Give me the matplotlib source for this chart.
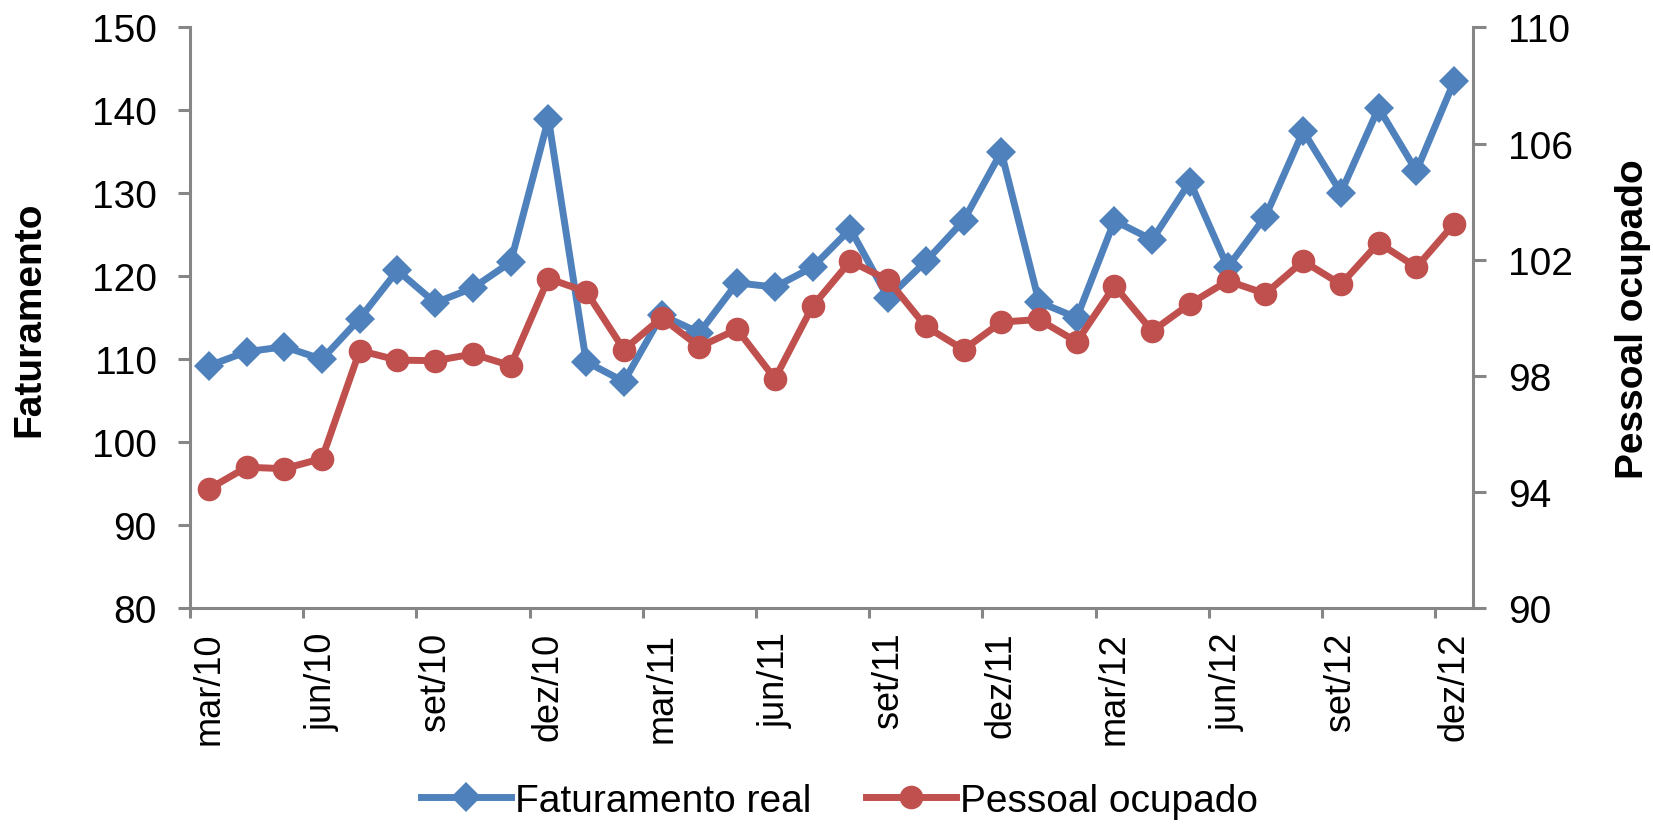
import numpy as np
import matplotlib.pyplot as plt
from matplotlib.lines import Line2D

plt.rcParams['font.family'] = ['Liberation Sans', 'DejaVu Sans']

# Monthly series, mar/10 .. dez/12
faturamento = [109.2, 110.9, 111.5, 110.0, 114.9, 120.7, 116.8, 118.6, 121.7, 139.0,
               109.7, 107.3, 115.3, 113.2, 119.2, 118.7, 121.1, 125.7, 117.4, 121.8,
               126.7, 135.0, 116.9, 115.0, 126.7, 124.4, 131.4, 121.1, 127.2, 137.5,
               130.1, 140.3, 132.7, 143.5]
pessoal = [94.1, 94.85, 94.8, 95.15, 98.87, 98.54, 98.52, 98.75, 98.35, 101.35,
           100.9, 98.9, 100.0, 99.0, 99.6, 97.9, 100.4, 101.95, 101.3, 99.7,
           98.9, 99.85, 99.94, 99.17, 101.1, 99.54, 100.48, 101.27, 100.83, 101.95,
           101.15, 102.58, 101.74, 103.24]
tick_labels = ['mar/10', 'jun/10', 'set/10', 'dez/10', 'mar/11', 'jun/11',
               'set/11', 'dez/11', 'mar/12', 'jun/12', 'set/12', 'dez/12']
left_ticks = [80, 90, 100, 110, 120, 130, 140, 150]
right_ticks = [90, 94, 98, 102, 106, 110]

blue = '#4F81BD'
red = '#C0504D'
grey = '#868686'

fig = plt.figure(figsize=(16.53, 8.28), dpi=100)
ax = fig.add_axes([0.1149, 0.2645, 0.7762, 0.7011])
ax2 = ax.twinx()

x = np.arange(len(faturamento))
ax.plot(x, faturamento, color=blue, lw=5, marker='D', ms=15, mew=0,
        solid_joinstyle='round', clip_on=False)
ax2.plot(x, pessoal, color=red, lw=5, marker='o', ms=17, mew=0,
         solid_joinstyle='round', clip_on=False)

ax.set_xlim(-0.5, len(x) - 0.5)
ax.set_ylim(80, 150)
ax2.set_ylim(90, 110)
ax.set_yticks(left_ticks)
ax2.set_yticks(right_ticks)

# category labels every 3 months, tick marks between categories
ax.set_xticks(x[::3])
ax.set_xticklabels(tick_labels, rotation=90, va='top', ha='center')
ax.set_xticks(np.arange(-0.5, len(x) - 0.5, 3), minor=True)
ax.tick_params(axis='x', which='major', length=0, pad=17, labelsize=26)
ax.tick_params(axis='x', which='minor', length=7, width=2.2, color=grey)
ax.tick_params(axis='y', length=9, width=2.2, color=grey, pad=15, labelsize=28)
ax2.tick_params(axis='y', length=9, width=2.2, color=grey, pad=16, labelsize=28)

for a in (ax, ax2):
    a.spines['top'].set_visible(False)
    for s in ('left', 'bottom', 'right'):
        a.spines[s].set_color(grey)
        a.spines[s].set_linewidth(2.2)
ax.spines['right'].set_visible(False)
ax2.spines['left'].set_visible(False)
ax2.spines['bottom'].set_visible(False)

fig.text(0.018, 0.615, 'Faturamento', rotation=90, fontsize=28,
         fontweight='bold', ha='center', va='center')
fig.text(0.988, 0.615, 'Pessoal ocupado', rotation=90, fontsize=28,
         fontweight='bold', ha='center', va='center')

handles = [
    Line2D([], [], color=blue, lw=5, marker='D', ms=15, mew=0),
    Line2D([], [], color=red, lw=5, marker='o', ms=17, mew=0),
]
fig.legend(handles, ['Faturamento real', 'Pessoal ocupado'], loc='center',
           bbox_to_anchor=(0.508, 0.032), ncol=2, frameon=False, fontsize=28,
           handlelength=2.3, handletextpad=0.12, columnspacing=1.4,
           borderpad=0.1)

fig.savefig('out.png', dpi=100)
